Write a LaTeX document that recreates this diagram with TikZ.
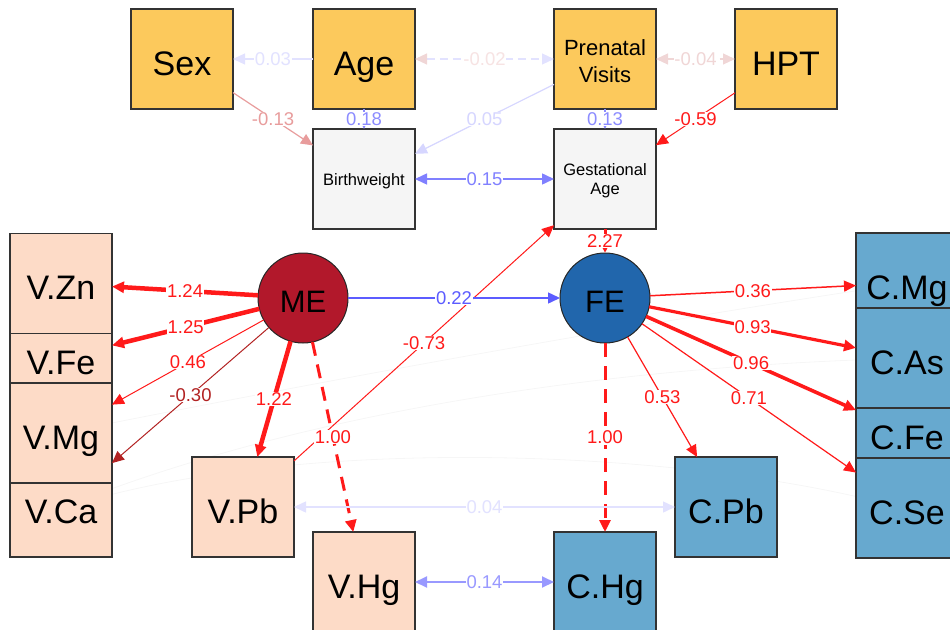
\documentclass[tikz,border=0pt]{standalone}
\usepackage{fontspec}
\setmainfont{Liberation Sans}
\usetikzlibrary{arrows.meta,backgrounds}
\definecolor{obsor}{HTML}{FCC95C}
\definecolor{peach}{HTML}{FDDBC7}
\definecolor{cblue}{HTML}{67A9CF}
\definecolor{graybox}{HTML}{F5F5F5}
\definecolor{mered}{HTML}{B2182B}
\definecolor{feblue}{HTML}{2166AC}
\definecolor{ered}{HTML}{FF1A1A}
\definecolor{edark}{HTML}{B22222}
\definecolor{epink}{HTML}{E89C9C}
\definecolor{fpink}{HTML}{F7E3E3}
\definecolor{fpinkb}{HTML}{F0D6D6}
\definecolor{elav}{HTML}{8C8CFF}
\definecolor{flav}{HTML}{E2E2FF}
\definecolor{flavb}{HTML}{D6D6FF}
\definecolor{eblue}{HTML}{5C5CFF}
\definecolor{emid}{HTML}{8080FF}
\definecolor{hgblue}{HTML}{9999FF}
\definecolor{ghost}{HTML}{F6F6F6}
\begin{document}
\begin{tikzpicture}[x=1pt,y=-1pt,
  box/.style={draw=black!80, line width=1.2pt, minimum width=102pt, minimum height=100pt,
    inner sep=0pt, outer sep=0pt, font=\fontsize{34}{38}\selectfont,
    text height=32pt, text depth=0pt},
  plainbox/.style={draw=black!80, line width=1.2pt, minimum width=102pt, minimum height=100pt,
    inner sep=0pt, outer sep=0pt},
  smallbox/.style={plainbox, fill=graybox, font=\fontsize{16.5}{19}\selectfont, align=center},
  boxtext/.style={inner sep=0pt, align=center},
  lat/.style={circle, draw=black!85, line width=1pt, minimum size=90pt, inner sep=0pt,
    outer sep=0pt, font=\fontsize{31}{33}\selectfont, text height=28pt, text depth=0pt},
  edge/.style={-{Triangle[length=12pt,width=11pt]}},
  bi/.style={{Triangle[length=12pt,width=11pt]}-{Triangle[length=12pt,width=11pt]}},
  lab/.style={fill=white, inner sep=0.6pt, font=\fontsize{18.5}{20}\selectfont},
  fixedpath/.style={dash pattern=on 14pt off 9pt},
]
\useasboundingbox (0,0) rectangle (950,629);
\clip (0,0) rectangle (950,629);
% exogenous covariates
\node[box, fill=obsor] (sex) at (182,59) {Sex};
\node[box, fill=obsor] (age) at (364,59) {Age};
\node[plainbox, fill=obsor] (pv) at (605,59) {};
\node[boxtext, font=\fontsize{22}{27}\selectfont] (pvtext) at (605,61) {Prenatal\\Visits};
\node[box, fill=obsor] (hpt) at (786,59) {HPT};
\node[smallbox] (bw) at (364,179) {};
\node[boxtext, font=\fontsize{16.5}{19}\selectfont] (bwtext) at (364,181) {Birthweight};
\node[smallbox] (ga) at (605,179) {};
\node[boxtext, font=\fontsize{16.5}{19}\selectfont] (gatext) at (605,181) {Gestational\\Age};
% latent
\node[lat, fill=mered] (me) at (303,298) {ME};
\node[lat, fill=feblue] (fe) at (605,298) {FE};
% left column (drawn in overlap order)
\node[box, fill=peach] (vca) at (61,507) {V.Ca};
\node[box, fill=peach] (vfe) at (61,358) {V.Fe};
\node[box, fill=peach] (vmg) at (61,433) {V.Mg};
\node[box, fill=peach] (vzn) at (61,283.5) {V.Zn};
\node[box, fill=peach] (vpb) at (243,507) {V.Pb};
\node[box, fill=peach] (vhg) at (364,582) {V.Hg};
% right column
\node[box, fill=cblue] (cmg) at (907,283) {C.Mg};
\node[box, fill=cblue] (cfe) at (907,433) {C.Fe};
\node[box, fill=cblue] (cas) at (907,358) {C.As};
\node[box, fill=cblue] (cse) at (907,508) {C.Se};
\node[box, fill=cblue] (cpb) at (726,507) {C.Pb};
\node[box, fill=cblue] (chg) at (605,582) {C.Hg};
% faint residual covariances
\begin{pgfonlayer}{background}
\draw[ghost, line width=0.8pt] (vmg) .. controls (330,380) and (600,330) .. (cmg);
\draw[ghost, line width=0.8pt] (vca) .. controls (330,410) and (600,370) .. (cas);
\draw[ghost, line width=0.8pt] (vca) .. controls (330,440) and (650,450) .. (cse);
\end{pgfonlayer}
% top covariances
\draw[edge, flav, line width=1.2pt] (age) -- node[lab]{0.03} (sex);
\draw[{Triangle[length=12pt,width=11pt,color=fpinkb]}-{Triangle[length=12pt,width=11pt]}, flav, line width=1.2pt, dash pattern=on 8pt off 5pt] (age) -- node[lab, text=fpink]{-0.02} (pv);
\draw[bi, fpinkb, line width=1.2pt, dash pattern=on 8pt off 5pt] (pv) -- node[lab]{-0.04} (hpt);
% covariate paths
\draw[edge, epink, line width=1.2pt] (sex) -- node[lab]{-0.13} (bw);
\draw[edge, elav, line width=1.2pt] (age) -- node[lab]{0.18} (bw);
\draw[edge, flavb, line width=1.2pt] (pv) -- node[lab]{0.05} (bw);
\draw[edge, elav, line width=1.2pt] (pv) -- node[lab]{0.13} (ga);
\draw[edge, ered, line width=1pt] (hpt) -- node[lab]{-0.59} (ga);
\draw[bi, emid, line width=1.5pt] (bw) -- node[lab]{0.15} (ga);
\draw[edge, ered, line width=3pt] (ga) -- node[lab]{2.27} (fe);
\draw[edge, ered, line width=1pt] (vpb) -- node[lab]{-0.73} (ga);
\draw[edge, eblue, line width=1.5pt] (me) -- node[lab]{0.22} (fe);
% ME loadings
\draw[edge, ered, line width=4.5pt] (me) -- node[lab]{1.24} (vzn);
\draw[edge, ered, line width=4.5pt] (me) -- node[lab]{1.25} (vfe);
\draw[edge, ered, line width=1pt] (me) -- node[lab]{0.46} (vmg);
\draw[edge, edark, line width=1pt] (me) -- node[lab]{-0.30} (vca);
\draw[edge, ered, line width=4.5pt] (me) -- node[lab]{1.22} (vpb);
\draw[edge, ered, line width=3pt, fixedpath] (me) -- node[lab]{1.00} (vhg);
% FE loadings
\draw[edge, ered, line width=1.5pt] (fe) -- node[lab]{0.36} (cmg);
\draw[edge, ered, line width=3.2pt] (fe) -- node[lab]{0.93} (cas);
\draw[edge, ered, line width=3.6pt] (fe) -- node[lab]{0.96} (cfe);
\draw[edge, ered, line width=1.2pt] (fe) -- node[lab]{0.71} (cse);
\draw[edge, ered, line width=1.2pt] (fe) -- node[lab]{0.53} (cpb);
\draw[edge, ered, line width=3pt, fixedpath] (fe) -- node[lab]{1.00} (chg);
% residual covariances
\draw[bi, flav, line width=1.5pt] (vpb) -- node[lab]{0.04} (cpb);
\draw[bi, hgblue, line width=2pt] (vhg) -- node[lab]{0.14} (chg);
\end{tikzpicture}
\end{document}
